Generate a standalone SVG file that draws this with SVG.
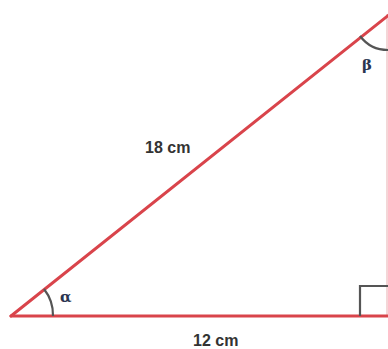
<svg xmlns="http://www.w3.org/2000/svg" width="388" height="349" viewBox="0 0 388 349">
<style>
.side{stroke:#d9444b;stroke-width:3;fill:none;stroke-linecap:round}
.faint{stroke:#f0c8ca;stroke-width:1.5;fill:none}
.arc{stroke:#555;stroke-width:2.2;fill:none}
.lbl{font-family:"Liberation Sans",Arial,sans-serif;font-weight:bold;font-size:16px;fill:#333}
.greek{font-family:"DejaVu Serif",serif;font-weight:bold;font-size:15px;fill:#2a3550}
</style>
<rect width="388" height="349" fill="#fff"/>
<g id="connectors">
<line class="faint" x1="387" y1="14" x2="387" y2="316"/>
<line id="hyp" class="side" x1="11" y1="316" x2="390" y2="14"/>
<line id="base" class="side" x1="11" y1="316" x2="390" y2="316"/>
</g>
<g id="alpha">
<path class="arc" d="M44,289 A42,42 0 0 1 53,316"/>
<text class="greek" x="60" y="302">α</text>
</g>
<g id="beta">
<path class="arc" d="M360,36 A35,35 0 0 0 388,50"/>
<text class="greek" x="362" y="70">β</text>
</g>
<g id="rightangle">
<polyline class="arc" points="360,316 360,286 388,286"/>
</g>
<g id="label18">
<text class="lbl" x="145" y="153">18 cm</text>
</g>
<g id="label12">
<text class="lbl" x="193" y="346">12 cm</text>
</g>
</svg>
